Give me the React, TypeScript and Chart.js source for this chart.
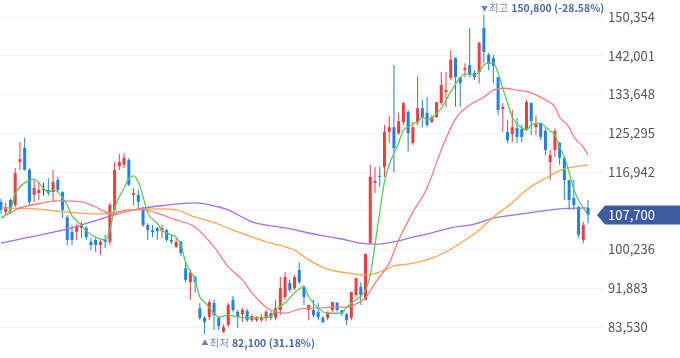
import React, { useEffect, useRef } from "react";
import { Chart, registerables } from "chart.js";

Chart.register(...registerables);

// ---- Daily candles (open / high / low / close) ----
const opens = [
  110500, 108300, 110900, 109800, 119100, 122100, 117400, 112000, 112400, 113100,
  113100, 112600, 115200, 112600, 107200, 104000, 104000, 104900, 104900, 101900,
  102300, 101200, 102300, 101900, 108800, 118200, 118500, 119500, 112000, 112000,
  109200, 105500, 104400, 104900, 104200, 104400, 102300, 100800, 101900, 96200,
  93200, 94300, 87600, 85500, 85700, 88700, 85500, 82500, 84000, 89400,
  86800, 86300, 87000, 85000, 85000, 85000, 85500, 86500, 85500, 87200,
  90000, 93000, 91900, 95800, 92200, 87200, 87200, 86800, 85500, 85500,
  87200, 88700, 87200, 86300, 85500, 90400, 92200, 89400, 101600, 114600,
  116100, 118000, 125600, 126600, 125300, 127700, 129900, 123200, 127700, 130700,
  129700, 127700, 128800, 131800, 134200, 137200, 141500, 137400, 138900, 140000,
  138300, 138500, 148000, 142200, 141500, 137400, 130500, 125600, 125100, 126400,
  126200, 126200, 131800, 126600, 127300, 125800, 119100, 121700, 123200, 120000,
  115200, 111300, 109400, 102300, 109200,
];
const highs = [
  111100, 110300, 111300, 117800, 123400, 124300, 117800, 115200, 114800, 114600,
  115600, 117400, 115900, 112800, 107700, 105500, 105900, 106200, 105300, 102700,
  102700, 102300, 103400, 110300, 119100, 120800, 121000, 120000, 113500, 113100,
  109400, 105900, 105500, 105100, 105500, 104700, 103400, 102700, 102100, 97500,
  95800, 94700, 88700, 85900, 89400, 89400, 85700, 84000, 88700, 90200,
  87200, 87600, 87400, 86300, 85900, 86300, 87200, 87000, 89400, 94300,
  95400, 93700, 94700, 97500, 92600, 88300, 89400, 88700, 85900, 86800,
  88900, 88900, 87200, 86500, 91100, 94100, 93200, 99300, 118500, 118000,
  118000, 127100, 129000, 140000, 129700, 132000, 130300, 127700, 137600, 132500,
  133100, 129200, 132000, 138500, 138500, 143200, 141700, 137400, 140400, 148000,
  138900, 145000, 150800, 142600, 142200, 137400, 131800, 128200, 130300, 128600,
  127100, 132500, 132000, 129200, 127500, 126400, 121700, 126400, 123400, 120000,
  115200, 115200, 109600, 106200, 110900,
];
const lows = [
  107900, 107500, 107900, 109400, 117400, 117200, 109800, 110500, 110900, 111800,
  111800, 110500, 112600, 107000, 101200, 101200, 102300, 102700, 102300, 100100,
  99700, 99100, 100600, 101200, 108500, 117400, 117800, 113900, 109800, 109200,
  105100, 102300, 102900, 102300, 102700, 101900, 101400, 100600, 98800, 93200,
  89400, 90900, 85000, 82100, 85000, 82900, 82900, 82300, 83500, 86800,
  83300, 84600, 84600, 84600, 84600, 84600, 84800, 85000, 85000, 86100,
  89400, 91100, 91500, 92800, 88300, 85000, 85700, 85000, 84400, 85000,
  86800, 86800, 85900, 84000, 85000, 90000, 88300, 89400, 101600, 112400,
  113700, 115900, 123200, 116900, 124900, 127100, 121300, 122800, 127100, 126600,
  126600, 127500, 128600, 131400, 131000, 136800, 131000, 131000, 137400, 137400,
  136800, 136100, 140400, 138900, 136100, 129200, 125600, 123200, 123400, 123200,
  123400, 125800, 124900, 124900, 123800, 120600, 115200, 120200, 118500, 110900,
  108800, 108800, 102700, 101600, 105900,
];
const closes = [
  108800, 109400, 108800, 116700, 119700, 117400, 110500, 113500, 113100, 113100,
  112400, 114800, 113100, 108800, 102300, 102300, 105100, 105500, 102900, 101200,
  101200, 101900, 101900, 109800, 117400, 119100, 120000, 114200, 112400, 110500,
  105500, 104400, 104000, 104200, 104900, 102300, 101900, 101900, 99500, 93700,
  95200, 93200, 85500, 84600, 88900, 86100, 83700, 83500, 88300, 87200,
  85700, 87200, 85000, 85900, 85500, 85700, 86800, 85500, 87600, 91900,
  94300, 91500, 94300, 93200, 90000, 88300, 86100, 85700, 84600, 86800,
  88900, 87200, 86500, 85000, 91100, 94100, 90400, 99300, 115900, 115000,
  115900, 125600, 126600, 122100, 127900, 131800, 125300, 126600, 130700, 128800,
  127100, 128800, 132000, 135700, 134600, 141100, 137400, 136100, 139400, 137900,
  137400, 144800, 142800, 140400, 139800, 130300, 131000, 123800, 126600, 124500,
  124500, 132000, 127900, 127500, 124500, 121700, 120600, 125800, 120000, 115200,
  110900, 109800, 103400, 105500, 107700,
];

// ---- Moving averages: [candle index, value] ----
const ma5Points: [number, number][] = [
  [0, 107000], [2, 108800], [3, 112200], [5, 114600], [7, 115400], [8, 114600], [10, 112600],
  [11, 113100], [12, 112600], [14, 109800], [15, 107500], [17, 105500], [18, 104200], [20, 102900],
  [22, 102300], [23, 104400], [24, 109200], [26, 113500], [27, 115600], [28, 116100], [29, 114800],
  [30, 111600], [31, 108100], [33, 105900], [34, 104400], [36, 103400], [37, 102900], [38, 101200],
  [39, 97500], [41, 93700], [42, 90000], [43, 88900], [45, 86500], [46, 85700], [48, 86100],
  [50, 85700], [53, 85500], [55, 85500], [57, 85700], [58, 87200], [60, 88700], [62, 90900],
  [64, 92200], [65, 90000], [67, 87600], [69, 86500], [72, 86500], [73, 87800], [75, 89400],
  [76, 90200], [77, 91500], [78, 94700], [79, 101300], [80, 108300], [81, 114800], [82, 118500],
  [83, 121000], [84, 123200], [85, 126000], [86, 126600], [87, 127300], [88, 127700], [89, 128800],
  [90, 128200], [91, 128600], [93, 130700], [95, 134200], [96, 135900], [98, 138100], [100, 137900],
  [101, 138500], [102, 140000], [103, 140400], [104, 140400], [105, 138300], [106, 135000],
  [107, 131800], [108, 128800], [109, 127300], [110, 126400], [111, 126000], [112, 127100],
  [113, 127300], [114, 127500], [115, 126600], [116, 125800], [117, 124900], [118, 122300],
  [119, 120200], [120, 116900], [121, 113100], [122, 110900], [123, 109200], [124, 107700],
];
const ma20Points: [number, number][] = [
  [0, 107000], [4, 109200], [8, 110100], [12, 110700], [17, 110500], [20, 109400], [23, 108100],
  [27, 108800], [30, 108800], [34, 107700], [37, 106600], [41, 105100], [45, 100800], [48, 96500],
  [51, 93700], [53, 90900], [56, 87800], [58, 86800], [60, 86500], [63, 87400], [65, 87600],
  [67, 87600], [70, 87800], [73, 87800], [75, 88500], [77, 89800], [79, 93000], [82, 97300],
  [84, 102300], [87, 108300], [90, 113500], [93, 121700], [96, 128400], [99, 131400], [102, 133100],
  [104, 134600], [106, 135000], [109, 134600], [112, 134000], [115, 132500], [117, 131000],
  [118, 128800], [120, 126600], [121, 124500], [123, 122300], [124, 120600],
];
const ma60Points: [number, number][] = [
  [0, 109200], [7, 109000], [14, 108300], [21, 107900], [25, 108100], [28, 108800], [34, 109000],
  [37, 108800], [41, 107200], [44, 106400], [49, 104400], [56, 101900], [62, 100100], [65, 98000],
  [69, 96000], [73, 95200], [77, 94700], [80, 95400], [83, 96700], [86, 97100], [91, 98400],
  [94, 99700], [97, 101600], [101, 104400], [104, 107200], [108, 110300], [111, 113100],
  [115, 115600], [119, 117600], [124, 118500],
];
const ma120Points: [number, number][] = [
  [0, 101600], [6, 102900], [13, 104400], [17, 105500], [21, 106800], [28, 108800], [35, 109800],
  [41, 110300], [46, 109400], [48, 108800], [53, 106200], [60, 104900], [67, 103400], [72, 102500],
  [76, 101600], [79, 101400], [83, 101900], [87, 102900], [91, 103800], [95, 104900], [100, 105700],
  [104, 107000], [110, 107900], [118, 109000], [124, 109200],
];

// ---- Price axis ticks ----
const tickValues = [83530, 91883, 100236, 108589, 116942, 125295, 133648, 142001, 150354];
const highLabel = "최고";
const lowLabel = "최저";

const UP = "#f13c3c";
const DOWN = "#1f80e6";
const FLAT = "#333333";
const AXIS_FONT = "'Noto Sans CJK KR', 'Noto Sans', sans-serif";

export default function App() {
  const ref = useRef<HTMLCanvasElement>(null);

  useEffect(() => {
    const canvas = ref.current;
    if (!canvas) return;
    const idx = closes.map((_, i) => i);
    const colors = idx.map((i) =>
      closes[i] > opens[i] ? UP : closes[i] < opens[i] ? DOWN : FLAT
    );
    const last = closes[closes.length - 1];
    let hi = 0;
    let lo = 0;
    highs.forEach((v, i) => { if (v > highs[hi]) hi = i; });
    lows.forEach((v, i) => { if (v < lows[lo]) lo = i; });
    const fmt = (v: number) => v.toLocaleString("en-US");
    const pct = (v: number) => ((last / v - 1) * 100).toFixed(2) + "%";

    const toXY = (pts: [number, number][]) => pts.map(([x, y]) => ({ x, y }));
    const lineDs = (data: [number, number][], color: string) => ({
      type: "line" as const,
      data: toXY(data),
      borderColor: color,
      borderWidth: 1.3,
      pointRadius: 0,
      cubicInterpolationMode: "monotone" as const,
      fill: false,
      order: 0,
    });

    const overlay = {
      id: "overlay",
      afterDraw(chart: any) {
        const { ctx } = chart;
        const xs = chart.scales.x;
        const ys = chart.scales.y;
        ctx.save();
        // current price tag
        const py = ys.getPixelForValue(last);
        const bx = chart.chartArea.right;
        ctx.fillStyle = "#3e5b9f";
        ctx.beginPath();
        ctx.moveTo(bx - 6, py);
        ctx.lineTo(bx + 2, py - 9.5);
        ctx.lineTo(680, py - 9.5);
        ctx.lineTo(680, py + 9.5);
        ctx.lineTo(bx + 2, py + 9.5);
        ctx.closePath();
        ctx.fill();
        ctx.fillStyle = "#ffffff";
        ctx.font = `13px ${AXIS_FONT}`;
        ctx.textBaseline = "middle";
        ctx.textAlign = "left";
        ctx.fillText(fmt(last), bx + 5, py + 0.5);

        // high / low notes
        const note = (i: number, value: number, yMid: number, tri: string, label: string) => {
          const cx = xs.getPixelForValue(i);
          ctx.textBaseline = "middle";
          ctx.textAlign = "center";
          ctx.fillStyle = "#6f80b4";
          ctx.font = `7px ${AXIS_FONT}`;
          ctx.fillText(tri, cx + 0.5, yMid);
          ctx.textAlign = "left";
          let x = cx + 5;
          ctx.font = `10.5px ${AXIS_FONT}`;
          ctx.fillStyle = "#7a88b2";
          ctx.fillText(label, x, yMid);
          x += ctx.measureText(label).width + 3;
          ctx.font = `bold 10.5px ${AXIS_FONT}`;
          ctx.fillStyle = "#4d67ad";
          ctx.fillText(`${fmt(value)} (${pct(value)})`, x, yMid);
        };
        note(hi, highs[hi], ys.getPixelForValue(highs[hi]) - 6.5, "▼", highLabel);
        note(lo, lows[lo], ys.getPixelForValue(lows[lo]) + 9, "▲", lowLabel);
        ctx.restore();
      },
    };

    const chart = new Chart(canvas, {
      type: "bar",
      data: {
        datasets: [
          lineDs(ma5Points, "#5acb5a"),
          lineDs(ma20Points, "#ff7c7c"),
          lineDs(ma60Points, "#ffa552"),
          lineDs(ma120Points, "#a46cf6"),
          {
            type: "bar",
            data: idx.map((i) => ({ x: i, y: [opens[i], closes[i]] })),
            backgroundColor: colors,
            barThickness: 3,
            minBarLength: 1,
            grouped: false,
            borderWidth: 0,
            inflateAmount: 0,
            order: 1,
          } as any,
          {
            type: "bar",
            data: idx.map((i) => ({ x: i, y: [lows[i], highs[i]] })),
            backgroundColor: colors,
            barThickness: 1,
            grouped: false,
            borderWidth: 0,
            inflateAmount: 0,
            order: 2,
          } as any,
        ],
      },
      options: {
        animation: false,
        responsive: false,
        devicePixelRatio: 1,
        layout: { padding: 0 },
        plugins: { legend: { display: false }, tooltip: { enabled: false } },
        events: [],
        scales: {
          x: {
            type: "linear",
            display: false,
            offset: false,
            min: -0.211,
            max: 127.16,
          },
          y: {
            type: "linear",
            position: "right",
            min: 76849,
            max: 154019,
            border: { display: false },
            grid: { color: "rgba(40,40,120,0.06)", drawTicks: false, lineWidth: 1 },
            ticks: {
              padding: 5,
              color: "#555555",
              font: { family: AXIS_FONT, size: 13 },
              callback: (v: any) => Number(v).toLocaleString("en-US"),
            },
            afterBuildTicks: (scale: any) => {
              scale.ticks = tickValues.map((value) => ({ value }));
            },
            afterFit: (scale: any) => {
              scale.width = 77;
              scale.paddingTop = 0;
              scale.paddingBottom = 0;
            },
          },
        },
      } as any,
      plugins: [overlay],
    });
    return () => chart.destroy();
  }, []);

  return (
    <div style={{ position: "absolute", left: 0, top: 0, width: 680, height: 358, background: "#fff" }}>
      <canvas ref={ref} width={680} height={358} style={{ display: "block" }} />
    </div>
  );
}
